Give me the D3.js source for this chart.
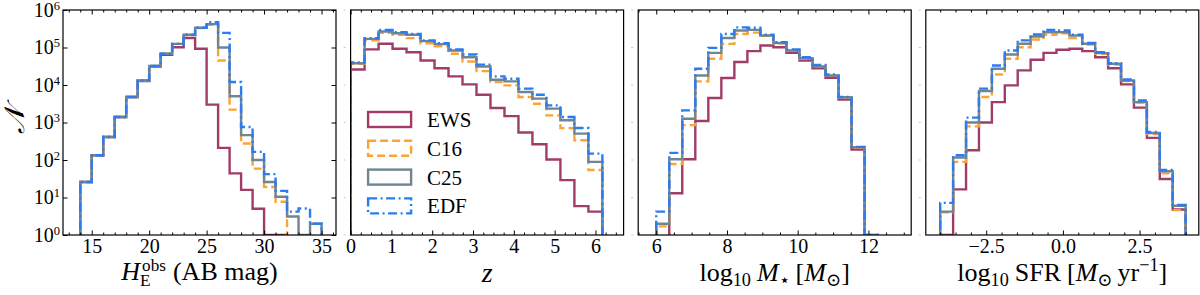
<!DOCTYPE html>
<html>
<head>
<meta charset="utf-8">
<script src="https://cdn.jsdelivr.net/npm/d3@7"></script>
<style>
body { margin: 0; background: #fff; }
svg text { font-family: "Liberation Serif", "DejaVu Serif", serif; fill: #000; }
</style>
</head>
<body>
<svg id="chart" width="1200" height="295"></svg>
<script>
// ---- data ----
var seriesNames = ["EWS", "C16", "C25", "EDF"];

// panel 1: H_E magnitude, unit bins 14..35
var magEdges = [14,15,16,17,18,19,20,21,22,23,24,25,26,27,28,29,30,31,32,33,34,35];
var magEWS = [26,134,410,1400,4800,12800,31000,64000,102000,180000,93000,3000,210,44,16,5,1,1,0,0,0];
var magC16 = [26,134,410,1400,4800,13200,32000,68000,125000,215000,330000,400000,45000,2200,275,59,19,7.7,0,0,0];
var magC25 = [26,134,410,1400,4800,13200,32000,68000,125000,218000,335000,420000,100000,5000,460,100,26,10.5,3.1,1,2];
var magEDF = [26,134,410,1400,4800,13200,32000,68000,125000,218000,335000,470000,245000,12000,760,165,42,15,4.2,5.1,2];

// panel 2: redshift, 18 bins over [0, 6.17]
var zRange = [0, 6.17], zBins = 18;
var zEWS = [26000,89000,126000,93000,75000,45000,28000,17000,10400,5500,2440,1480,540,263,103,29,5.9,4.2];
var zC16 = [37000,155000,245000,218000,178000,130000,108000,68000,42500,23500,12000,9800,4800,3170,1550,710,335,54];
var zC25 = [38000,170000,268000,240000,218000,148000,123000,83000,55000,31000,13800,12500,6500,4340,2340,1150,505,89];
var zEDF = [40000,177000,295000,255000,230000,155000,130000,89000,65000,35000,17000,14700,8000,5500,2870,1400,715,148];

// panel 3: log stellar mass, 17 bins over [6.0, 12.26]
var massRange = [6.0, 12.26], massBins = 17;
var massEWS = [0,13,105,1100,4500,15300,41000,80000,113000,102000,72000,45000,28000,15600,4070,190,0];
var massC16 = [1.7,78,850,12500,50000,125000,230000,250000,205000,130000,82000,51000,30500,17500,4600,215,1];
var massC25 = [2,105,1260,18000,72000,180000,283000,295000,209000,132000,83000,52000,31000,18000,4700,220,1];
var massEDF = [4.2,155,2100,27000,98000,230000,345000,335000,218000,138000,89000,55000,34500,19000,4800,224,1];

// panel 4: log SFR, 19 bins over [-4, 4]
var sfrRange = [-4, 4], sfrBins = 19;
var sfrEWS = [1,16.5,182,1000,3500,9800,24500,47000,72000,87000,93000,80000,55000,28000,10400,2500,390,31,4.8];
var sfrC16 = [4,89,790,4800,19000,50000,102000,163000,218000,240000,178000,120000,68000,35000,12800,3400,490,44,4.6];
var sfrC25 = [4.2,117,1000,6900,27000,65000,126000,196000,255000,255000,209000,126000,71000,37000,13200,3500,525,50,6];
var sfrEDF = [7.2,134,1350,8000,33000,83000,155000,222000,295000,283000,218000,132000,75000,38000,14000,3900,560,54,6.3];

var magTicks = [15, 20, 25, 30, 35];
var zTicks = [0, 1, 2, 3, 4, 5, 6];
var massTicks = [6, 8, 10, 12];
var sfrTicks = [-2.5, 0, 2.5];
var yTicks = [1, 10, 100, 1000, 10000, 100000, 1000000];

(function histPanels() {
    // ---- styles ----
    var colors = {EWS: "#a03c68", C16: "#fba435", C25: "#6f8592", EDF: "#2b7bf3"};
    var dashes = {EWS: null, C16: "8,4", C25: null, EDF: "9,3.5,2,3.5"};

    function binEdges(range, n) {
        return d3.range(n + 1).map(function(i) { return range[0] + i * (range[1] - range[0]) / n; });
    }

    var svg = d3.select("#chart"),
        plotTop = 10, plotBottom = 235, pw = 273,
        lefts = [63, 350.6, 638.2, 925.8];

    var y = d3.scaleLog().domain([1, 1e6]).range([plotBottom, plotTop]);

    var panels = [
        {domain: [12.5, 36.26], edges: magEdges, vals: [magEWS, magC16, magC25, magEDF],
         ticks: magTicks, minor: d3.range(13, 37, 1), fmt: d3.format("d")},
        {domain: [0, 6.69], edges: binEdges(zRange, zBins), vals: [zEWS, zC16, zC25, zEDF],
         ticks: zTicks, minor: d3.range(0, 6.6, 0.25), fmt: d3.format("d")},
        {domain: [5.49, 13.21], edges: binEdges(massRange, massBins), vals: [massEWS, massC16, massC25, massEDF],
         ticks: massTicks, minor: d3.range(5.5, 13.1, 0.5), fmt: d3.format("d")},
        {domain: [-4.47, 4.43], edges: binEdges(sfrRange, sfrBins), vals: [sfrEWS, sfrC16, sfrC25, sfrEDF],
         ticks: sfrTicks, minor: d3.range(-4, 4.01, 0.5), fmt: function(d) { return d3.format(".1f")(d).replace("-", "\u2212"); }}
    ];

    var defs = svg.append("defs");

    panels.forEach(function(p, pi) {
        var x = d3.scaleLinear().domain(p.domain).range([0, pw]);
        var g = svg.append("g").attr("transform", "translate(" + lefts[pi] + ",0)");

        defs.append("clipPath").attr("id", "clip" + pi)
            .append("rect").attr("x", 0).attr("y", plotTop).attr("width", pw).attr("height", plotBottom - plotTop);

        var line = d3.line()
            .x(function(d) { return x(d[0]); })
            .y(function(d) { return y(Math.max(d[1], 0.05)); });

        var plot = g.append("g").attr("clip-path", "url(#clip" + pi + ")");
        p.vals.forEach(function(vals, si) {
            var pts = [[p.edges[0], 0]];
            vals.forEach(function(v, i) {
                pts.push([p.edges[i], v]);
                pts.push([p.edges[i + 1], v]);
            });
            pts.push([p.edges[p.edges.length - 1], 0]);
            var name = seriesNames[si];
            plot.append("path")
                .attr("d", line(pts))
                .attr("fill", "none")
                .attr("stroke", colors[name])
                .attr("stroke-width", 2.4)
                .attr("stroke-dasharray", dashes[name]);
        });

        // x axes, ticks pointing inward
        var minor = p.minor.filter(function(d) { return p.ticks.indexOf(d) < 0; });
        g.append("g").attr("transform", "translate(0," + plotBottom + ")")
            .call(d3.axisBottom(x).tickValues(minor).tickSizeInner(-2.5).tickSizeOuter(0).tickFormat(""));
        g.append("g").attr("transform", "translate(0," + plotTop + ")")
            .call(d3.axisTop(x).tickValues(minor).tickSizeInner(-2.5).tickSizeOuter(0).tickFormat(""));
        g.append("g").attr("transform", "translate(0," + plotTop + ")")
            .call(d3.axisTop(x).tickValues(p.ticks).tickSizeInner(-4.5).tickSizeOuter(0).tickFormat(""));
        g.append("g").attr("class", "xmaj").attr("transform", "translate(0," + plotBottom + ")")
            .call(d3.axisBottom(x).tickValues(p.ticks).tickSizeInner(-4.5).tickSizeOuter(0).tickPadding(4).tickFormat(p.fmt));

        if (pi === 0) {
            g.append("g").call(d3.axisLeft(y).tickValues(yTicks).tickSizeInner(-4.5).tickSizeOuter(0).tickFormat(""));
            g.append("g").attr("transform", "translate(" + pw + ",0)")
                .call(d3.axisRight(y).tickValues(yTicks).tickSizeInner(-4.5).tickSizeOuter(0).tickFormat(""));
            yTicks.forEach(function(t) {
                var tx = g.append("text")
                    .attr("x", -3).attr("y", y(t) + 6.5)
                    .attr("text-anchor", "end")
                    .attr("font-size", 20);
                tx.append("tspan").text("10");
                tx.append("tspan").attr("font-size", 12.5).attr("dy", -7).text(Math.round(Math.log10(t)));
            });
        } else {
            g.selectAll(".ghost").data(yTicks).enter().append("line")
                .attr("x1", -7).attr("x2", -5)
                .attr("y1", function(d) { return y(d); }).attr("y2", function(d) { return y(d); })
                .attr("stroke", "#c8c8c8").attr("stroke-width", 1);
        }

        g.selectAll(".domain").remove();
        g.selectAll(".tick line").attr("stroke", "#000").attr("stroke-width", 1);
        g.selectAll(".xmaj text").attr("font-size", 20).attr("font-family", "Liberation Serif, DejaVu Serif, serif");

        g.append("rect").attr("x", 0).attr("y", plotTop).attr("width", pw).attr("height", plotBottom - plotTop)
            .attr("fill", "none").attr("stroke", "#000").attr("stroke-width", 1.2);
    });

    // rich text labels built from pieces
    function richLabel(parts, cx, baseY, fs) {
        var grp = svg.append("g");
        var x = 0, prevStart = 0;
        parts.forEach(function(p) {
            var start = p.stack ? prevStart : x + (p.gap || 0);
            var t = grp.append("text")
                .attr("x", start + (p.dx || 0)).attr("y", p.dy || 0)
                .attr("font-size", fs * (p.s || 1))
                .style("font-style", p.it ? "italic" : "normal")
                .text(p.t);
            var w = t.node().getComputedTextLength() + (p.dx || 0);
            if (p.stack) { x = Math.max(x, start + w); }
            else { prevStart = start; x = start + w; }
        });
        grp.attr("transform", "translate(" + (cx - x / 2) + "," + baseY + ")");
    }

    var fsL = 26;
    richLabel([{t: "H", it: true}, {t: "obs", s: 0.66, dy: -9, dx: 2}, {t: "E", s: 0.66, dy: 6, stack: true},
               {t: "(AB mag)", gap: 7}], lefts[0] + pw / 2, 280, fsL);
    richLabel([{t: "z", it: true}], lefts[1] + pw / 2, 282, fsL + 2);
    richLabel([{t: "log"}, {t: "10", s: 0.7, dy: 5}, {t: "M", it: true, gap: 6}, {t: "\u22c6", s: 0.7, dy: 5},
               {t: "[", gap: 6}, {t: "M", it: true}, {t: "\u2299", s: 0.7, dy: 5}, {t: "]"}], lefts[2] + pw / 2, 281, fsL);
    richLabel([{t: "log"}, {t: "10", s: 0.7, dy: 5}, {t: "SFR", gap: 6}, {t: "[", gap: 6}, {t: "M", it: true},
               {t: "\u2299", s: 0.7, dy: 5}, {t: "yr", gap: 5}, {t: "\u22121", s: 0.7, dy: -10}, {t: "]"}],
              lefts[3] + pw / 2, 281, fsL);

    // y label
    svg.append("text")
        .attr("transform", "translate(24,120) rotate(-90)")
        .attr("text-anchor", "middle")
        .attr("font-size", 28)
        .style("font-style", "italic")
        .text("\ud835\udca9");

    // legend in panel 2
    var leg = svg.append("g").attr("transform", "translate(" + (lefts[1] + 17.5) + ",112)");
    seriesNames.forEach(function(name, i) {
        leg.append("rect")
            .attr("x", 0).attr("y", i * 28.8).attr("width", 43).attr("height", 15)
            .attr("fill", "none").attr("stroke", colors[name]).attr("stroke-width", 2.4)
            .attr("stroke-dasharray", dashes[name]);
        leg.append("text")
            .attr("x", 59).attr("y", i * 28.8 + 15)
            .attr("font-size", 21)
            .text(name);
    });
})();
</script>
</body>
</html>
